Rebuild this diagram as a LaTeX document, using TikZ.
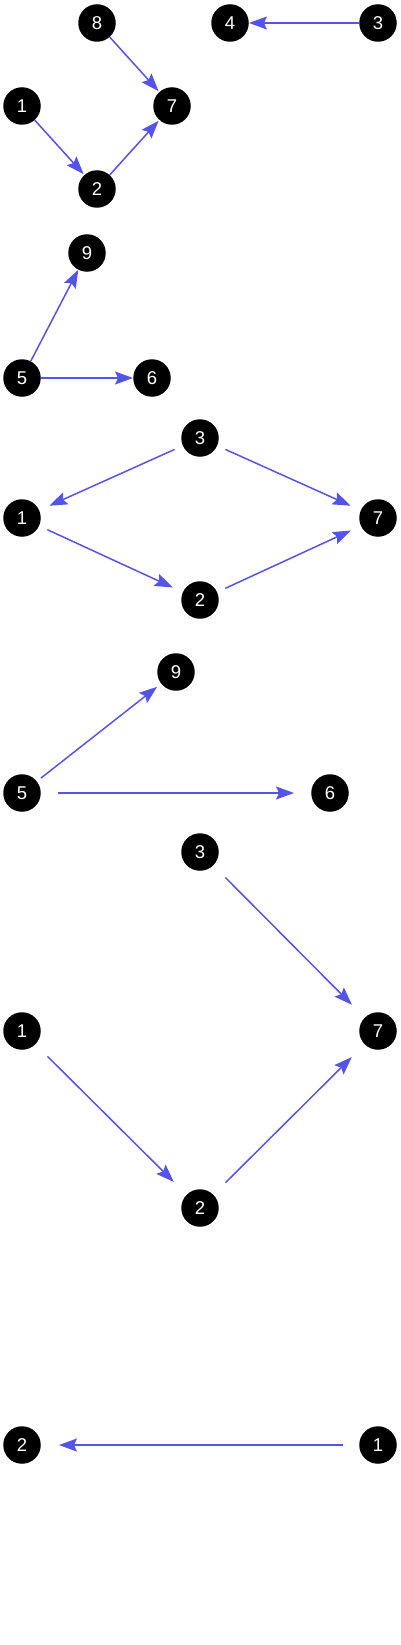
\documentclass[tikz,border=0pt]{standalone}
\usepackage{fontspec}
\setsansfont{Liberation Sans}
\usetikzlibrary{arrows.meta}
\definecolor{linkblue}{RGB}{84,84,232}

\begin{document}
\begin{tikzpicture}[
    x=1pt, y=-1pt,
    font=\sffamily\fontsize{18.5}{18.5}\selectfont, >={Stealth[length=18pt,width=13pt,inset=3pt]},
    vtx/.style={circle, fill=black, text=white, minimum size=37.5pt, inner sep=0pt},
    link/.style={->, draw=linkblue, line width=1.5pt},
]
\useasboundingbox (0,0) rectangle (400,1645);

% first graph
\node[vtx] (a8) at (97,23) {8};
\node[vtx] (a4) at (230,23) {4};
\node[vtx] (a3) at (378,23) {3};
\node[vtx] (a1) at (22,106) {1};
\node[vtx] (a7) at (172,106) {7};
\node[vtx] (a2) at (97,189) {2};
\draw[link, shorten >=1pt] (a8) -- (a7);
\draw[link, shorten >=1pt] (a1) -- (a2);
\draw[link, shorten >=1pt] (a2) -- (a7);
\draw[link] (a3) -- (a4);

% second graph
\node[vtx] (b9) at (87,253) {9};
\node[vtx] (b5) at (22,378) {5};
\node[vtx] (b6) at (152,378) {6};
\draw[link] (b5) -- (b9);
\draw[link] (b5) -- (b6);

% third graph
\node[vtx] (c3) at (200,438) {3};
\node[vtx] (c1) at (22,518) {1};
\node[vtx] (c7) at (378,518) {7};
\node[vtx] (c2) at (200,600) {2};
\begin{scope}[shorten <=9pt, shorten >=11pt]
  \draw[link] (c3) -- (c1);
  \draw[link] (c3) -- (c7);
  \draw[link] (c1) -- (c2);
  \draw[link] (c2) -- (c7);
\end{scope}

% fourth graph
\node[vtx] (d9) at (176,672) {9};
\node[vtx] (d5) at (22,793) {5};
\node[vtx] (d6) at (330,793) {6};
\draw[link, shorten <=5pt, shorten >=5pt] (d5) -- (d9);
\draw[link, shorten <=17pt, shorten >=17pt] (d5) -- (d6);

% fifth graph
\node[vtx] (e3) at (200,852) {3};
\node[vtx] (e1) at (22,1031) {1};
\node[vtx] (e7) at (378,1031) {7};
\node[vtx] (e2) at (200,1208) {2};
\begin{scope}[shorten <=17pt, shorten >=18pt]
  \draw[link] (e3) -- (e7);
  \draw[link] (e1) -- (e2);
  \draw[link] (e2) -- (e7);
\end{scope}

% sixth graph
\node[vtx] (f2) at (22,1445) {2};
\node[vtx] (f1) at (378,1445) {1};
\draw[link, shorten <=16pt, shorten >=18pt] (f1) -- (f2);
\end{tikzpicture}
\end{document}
